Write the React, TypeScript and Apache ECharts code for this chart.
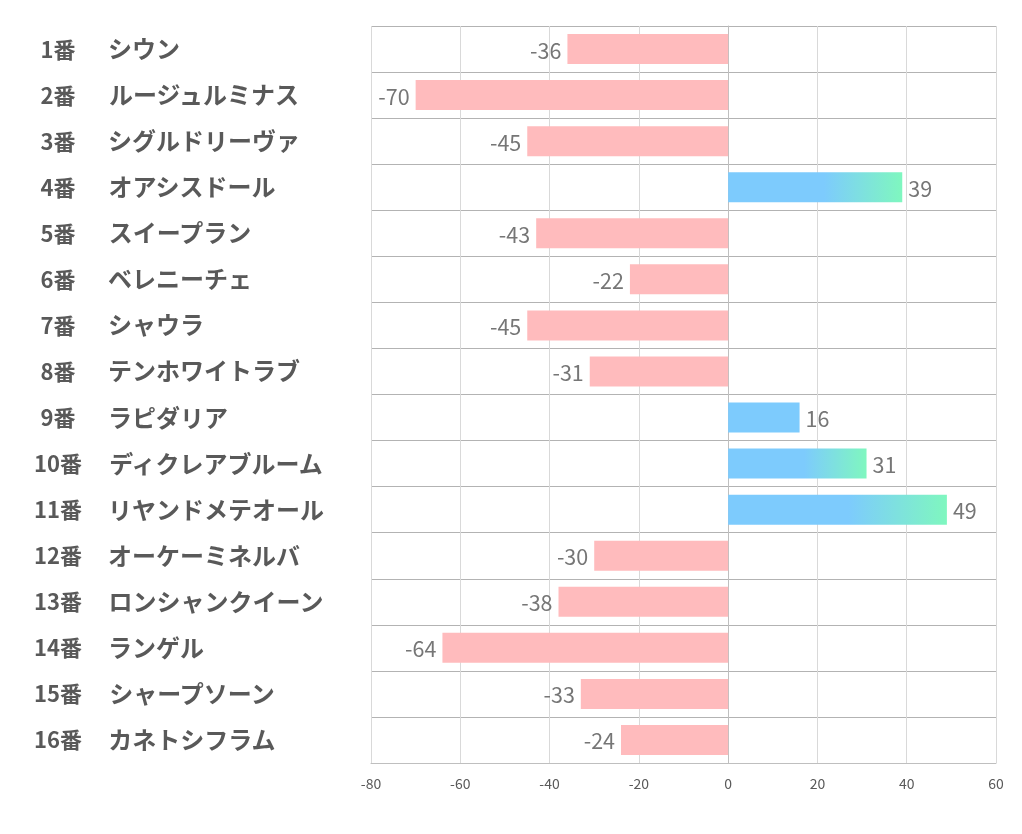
import React, { useEffect, useRef } from "react";
import * as echarts from "echarts";

const numbers = ["1番", "2番", "3番", "4番", "5番", "6番", "7番", "8番", "9番", "10番", "11番", "12番", "13番", "14番", "15番", "16番"];
const names = [
  "シウン",
  "ルージュルミナス",
  "シグルドリーヴァ",
  "オアシスドール",
  "スイープラン",
  "ベレニーチェ",
  "シャウラ",
  "テンホワイトラブ",
  "ラピダリア",
  "ディクレアブルーム",
  "リヤンドメテオール",
  "オーケーミネルバ",
  "ロンシャンクイーン",
  "ランゲル",
  "シャープソーン",
  "カネトシフラム",
];
const values = [-36, -70, -45, 39, -43, -22, -45, -31, 16, 31, 49, -30, -38, -64, -33, -24];
const xTicks = [-80, -60, -40, -20, 0, 20, 40, 60];

const BLUE = "#7dcbfd";
const GREEN = "#7ff7bf";
const PINK = "#ffbbbd";

export default function App() {
  const ref = useRef<HTMLDivElement>(null);
  useEffect(() => {
    if (!ref.current) return;
    const chart = echarts.init(ref.current, null, { renderer: "svg" });
    const cats = numbers.map((n, i) => n + "|" + names[i]);
    const data = values.map((v) => {
      let color: any = PINK;
      if (v > 0) {
        color =
          v < 20
            ? BLUE
            : new echarts.graphic.LinearGradient(0, 0, 1, 0, [
                { offset: 0, color: BLUE },
                { offset: 0.55, color: BLUE },
                { offset: 1, color: GREEN },
              ]);
      }
      return { value: v, itemStyle: { color } };
    });
    chart.setOption({
      animation: false,
      grid: { left: 371, right: 26, top: 26, bottom: 71, containLabel: false },
      xAxis: {
        type: "value",
        min: xTicks[0],
        max: xTicks[xTicks.length - 1],
        interval: 20,
        axisLine: { show: true, lineStyle: { color: "#bfbfbf", width: 1 } },
        axisTick: { show: false },
        axisLabel: { color: "#595959", fontSize: 14, margin: 13, fontFamily: "Noto Sans CJK JP" },
        splitLine: { show: true, lineStyle: { color: "#d9d9d9", width: 1 } },
      },
      yAxis: {
        type: "category",
        inverse: true,
        data: cats,
        axisLine: { show: true, lineStyle: { color: "#bfbfbf" } },
        axisTick: { show: false },
        splitLine: { show: true, lineStyle: { color: "#b3b3b3", width: 1 } },
        axisLabel: {
          align: "left",
          margin: 351,
          formatter: (val: string) => {
            const [n, m] = val.split("|");
            return "{n|" + n + "}{s|}{m|" + m + "}";
          },
          rich: {
            n: { width: 76, align: "right", fontSize: 22, fontWeight: "bold", color: "#595959", fontFamily: "Noto Sans CJK JP", padding: [0, 0, 3, 0] },
            s: { width: 12 },
            m: { fontSize: 24, fontWeight: "bold", color: "#595959", fontFamily: "Noto Sans CJK JP", padding: [0, 0, 3, 0] },
          },
        },
      },
      series: [
        {
          type: "bar",
          data,
          barWidth: 30,
          label: {
            show: true,
            position: "outside",
            distance: 6,
            color: "#767676",
            fontSize: 21.5,
            fontFamily: "Noto Sans CJK JP",
          },
        },
      ],
    });
    return () => chart.dispose();
  }, []);
  return <div ref={ref} style={{ position: "fixed", left: 0, top: 0, width: 1022, height: 834 }} />;
}
